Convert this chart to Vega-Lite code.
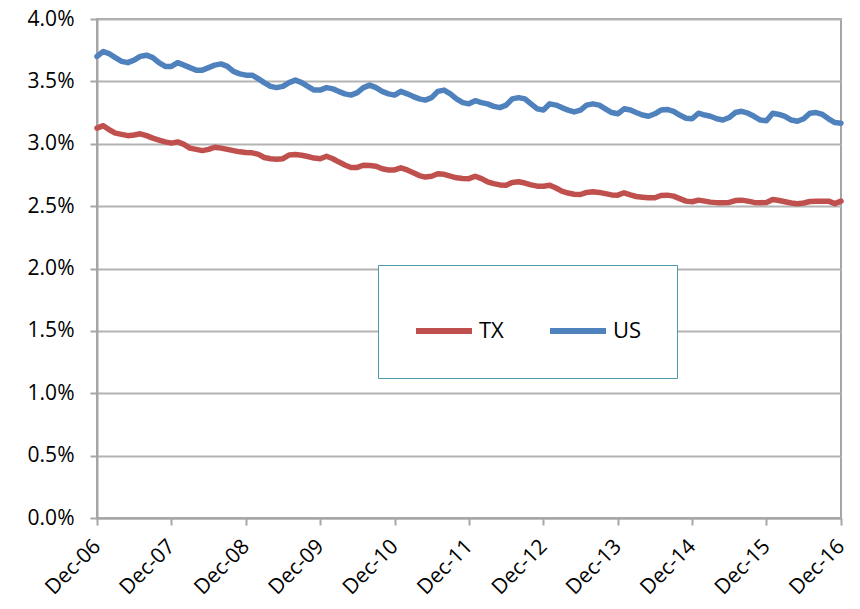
{
  "$schema": "https://vega.github.io/schema/vega-lite/v6.json",
  "width": 744,
  "height": 499,
  "autosize": {"type": "none"},
  "padding": {"left": 97, "top": 19, "right": 19, "bottom": 91},
  "background": "white",
  "config": {
    "view": {"stroke": "#a6a6a6", "strokeWidth": 2},
    "font": "Open Sans"
  },
  "data": {
    "values": [
      {"d":"2006-12-01","TX":3.125,"US":3.70},
      {"d":"2007-01-01","TX":3.145,"US":3.74},
      {"d":"2007-02-01","TX":3.11,"US":3.72},
      {"d":"2007-03-01","TX":3.085,"US":3.69},
      {"d":"2007-04-01","TX":3.075,"US":3.66},
      {"d":"2007-05-01","TX":3.065,"US":3.65},
      {"d":"2007-06-01","TX":3.07,"US":3.67},
      {"d":"2007-07-01","TX":3.08,"US":3.70},
      {"d":"2007-08-01","TX":3.065,"US":3.71},
      {"d":"2007-09-01","TX":3.045,"US":3.69},
      {"d":"2007-10-01","TX":3.03,"US":3.65},
      {"d":"2007-11-01","TX":3.015,"US":3.62},
      {"d":"2007-12-01","TX":3.005,"US":3.62},
      {"d":"2008-01-01","TX":3.015,"US":3.65},
      {"d":"2008-02-01","TX":2.995,"US":3.63},
      {"d":"2008-03-01","TX":2.965,"US":3.61},
      {"d":"2008-04-01","TX":2.955,"US":3.59},
      {"d":"2008-05-01","TX":2.945,"US":3.59},
      {"d":"2008-06-01","TX":2.955,"US":3.61},
      {"d":"2008-07-01","TX":2.972,"US":3.63},
      {"d":"2008-08-01","TX":2.965,"US":3.64},
      {"d":"2008-09-01","TX":2.955,"US":3.62},
      {"d":"2008-10-01","TX":2.945,"US":3.58},
      {"d":"2008-11-01","TX":2.935,"US":3.56},
      {"d":"2008-12-01","TX":2.93,"US":3.55},
      {"d":"2009-01-01","TX":2.927,"US":3.55},
      {"d":"2009-02-01","TX":2.915,"US":3.52},
      {"d":"2009-03-01","TX":2.89,"US":3.49},
      {"d":"2009-04-01","TX":2.88,"US":3.46},
      {"d":"2009-05-01","TX":2.875,"US":3.45},
      {"d":"2009-06-01","TX":2.88,"US":3.46},
      {"d":"2009-07-01","TX":2.91,"US":3.49},
      {"d":"2009-08-01","TX":2.913,"US":3.51},
      {"d":"2009-09-01","TX":2.908,"US":3.49},
      {"d":"2009-10-01","TX":2.898,"US":3.46},
      {"d":"2009-11-01","TX":2.885,"US":3.43},
      {"d":"2009-12-01","TX":2.88,"US":3.43},
      {"d":"2010-01-01","TX":2.90,"US":3.45},
      {"d":"2010-02-01","TX":2.88,"US":3.44},
      {"d":"2010-03-01","TX":2.855,"US":3.42},
      {"d":"2010-04-01","TX":2.83,"US":3.40},
      {"d":"2010-05-01","TX":2.81,"US":3.39},
      {"d":"2010-06-01","TX":2.81,"US":3.41},
      {"d":"2010-07-01","TX":2.828,"US":3.45},
      {"d":"2010-08-01","TX":2.825,"US":3.47},
      {"d":"2010-09-01","TX":2.82,"US":3.45},
      {"d":"2010-10-01","TX":2.80,"US":3.42},
      {"d":"2010-11-01","TX":2.79,"US":3.40},
      {"d":"2010-12-01","TX":2.79,"US":3.39},
      {"d":"2011-01-01","TX":2.807,"US":3.42},
      {"d":"2011-02-01","TX":2.79,"US":3.40},
      {"d":"2011-03-01","TX":2.77,"US":3.38},
      {"d":"2011-04-01","TX":2.745,"US":3.36},
      {"d":"2011-05-01","TX":2.733,"US":3.35},
      {"d":"2011-06-01","TX":2.74,"US":3.37},
      {"d":"2011-07-01","TX":2.76,"US":3.42},
      {"d":"2011-08-01","TX":2.755,"US":3.43},
      {"d":"2011-09-01","TX":2.74,"US":3.40},
      {"d":"2011-10-01","TX":2.727,"US":3.36},
      {"d":"2011-11-01","TX":2.721,"US":3.33},
      {"d":"2011-12-01","TX":2.72,"US":3.32},
      {"d":"2012-01-01","TX":2.74,"US":3.345},
      {"d":"2012-02-01","TX":2.72,"US":3.33},
      {"d":"2012-03-01","TX":2.695,"US":3.32},
      {"d":"2012-04-01","TX":2.68,"US":3.30},
      {"d":"2012-05-01","TX":2.67,"US":3.29},
      {"d":"2012-06-01","TX":2.668,"US":3.31},
      {"d":"2012-07-01","TX":2.69,"US":3.36},
      {"d":"2012-08-01","TX":2.695,"US":3.37},
      {"d":"2012-09-01","TX":2.685,"US":3.36},
      {"d":"2012-10-01","TX":2.67,"US":3.32},
      {"d":"2012-11-01","TX":2.66,"US":3.28},
      {"d":"2012-12-01","TX":2.66,"US":3.27},
      {"d":"2013-01-01","TX":2.668,"US":3.32},
      {"d":"2013-02-01","TX":2.645,"US":3.31},
      {"d":"2013-03-01","TX":2.62,"US":3.29},
      {"d":"2013-04-01","TX":2.605,"US":3.27},
      {"d":"2013-05-01","TX":2.595,"US":3.255},
      {"d":"2013-06-01","TX":2.593,"US":3.27},
      {"d":"2013-07-01","TX":2.61,"US":3.31},
      {"d":"2013-08-01","TX":2.615,"US":3.32},
      {"d":"2013-09-01","TX":2.61,"US":3.31},
      {"d":"2013-10-01","TX":2.60,"US":3.28},
      {"d":"2013-11-01","TX":2.59,"US":3.25},
      {"d":"2013-12-01","TX":2.588,"US":3.24},
      {"d":"2014-01-01","TX":2.607,"US":3.28},
      {"d":"2014-02-01","TX":2.59,"US":3.27},
      {"d":"2014-03-01","TX":2.577,"US":3.25},
      {"d":"2014-04-01","TX":2.572,"US":3.23},
      {"d":"2014-05-01","TX":2.568,"US":3.22},
      {"d":"2014-06-01","TX":2.567,"US":3.24},
      {"d":"2014-07-01","TX":2.585,"US":3.27},
      {"d":"2014-08-01","TX":2.588,"US":3.275},
      {"d":"2014-09-01","TX":2.58,"US":3.26},
      {"d":"2014-10-01","TX":2.56,"US":3.23},
      {"d":"2014-11-01","TX":2.54,"US":3.205},
      {"d":"2014-12-01","TX":2.535,"US":3.20},
      {"d":"2015-01-01","TX":2.548,"US":3.245},
      {"d":"2015-02-01","TX":2.54,"US":3.23},
      {"d":"2015-03-01","TX":2.532,"US":3.22},
      {"d":"2015-04-01","TX":2.528,"US":3.20},
      {"d":"2015-05-01","TX":2.527,"US":3.19},
      {"d":"2015-06-01","TX":2.53,"US":3.21},
      {"d":"2015-07-01","TX":2.545,"US":3.25},
      {"d":"2015-08-01","TX":2.548,"US":3.26},
      {"d":"2015-09-01","TX":2.54,"US":3.245},
      {"d":"2015-10-01","TX":2.53,"US":3.22},
      {"d":"2015-11-01","TX":2.527,"US":3.19},
      {"d":"2015-12-01","TX":2.53,"US":3.185},
      {"d":"2016-01-01","TX":2.553,"US":3.245},
      {"d":"2016-02-01","TX":2.545,"US":3.235},
      {"d":"2016-03-01","TX":2.535,"US":3.22},
      {"d":"2016-04-01","TX":2.525,"US":3.19},
      {"d":"2016-05-01","TX":2.519,"US":3.18},
      {"d":"2016-06-01","TX":2.525,"US":3.20},
      {"d":"2016-07-01","TX":2.537,"US":3.245},
      {"d":"2016-08-01","TX":2.54,"US":3.25},
      {"d":"2016-09-01","TX":2.54,"US":3.235},
      {"d":"2016-10-01","TX":2.54,"US":3.20},
      {"d":"2016-11-01","TX":2.52,"US":3.17},
      {"d":"2016-12-01","TX":2.54,"US":3.165}
    ]
  },
  "transform": [{"fold": ["TX", "US"], "as": ["series", "value"]}],
  "mark": {"type": "line", "strokeWidth": 5.5, "strokeCap": "round", "strokeJoin": "round"},
  "encoding": {
    "x": {
      "field": "d",
      "type": "temporal",
      "scale": {"type": "utc", "domain": [{"year": 2006, "month": 12, "date": 1, "utc": true}, {"year": 2016, "month": 12, "date": 1, "utc": true}], "nice": false},
      "axis": {
        "title": null,
        "grid": false,
        "values": [
          {"year": 2006, "month": 12, "date": 1, "utc": true},
          {"year": 2007, "month": 12, "date": 1, "utc": true},
          {"year": 2008, "month": 12, "date": 1, "utc": true},
          {"year": 2009, "month": 12, "date": 1, "utc": true},
          {"year": 2010, "month": 12, "date": 1, "utc": true},
          {"year": 2011, "month": 12, "date": 1, "utc": true},
          {"year": 2012, "month": 12, "date": 1, "utc": true},
          {"year": 2013, "month": 12, "date": 1, "utc": true},
          {"year": 2014, "month": 12, "date": 1, "utc": true},
          {"year": 2015, "month": 12, "date": 1, "utc": true},
          {"year": 2016, "month": 12, "date": 1, "utc": true}
        ],
        "labelExpr": "utcFormat(datum.value, '%b-%y')",
        "labelAngle": -45,
        "labelAlign": "right",
        "labelBaseline": "middle",
        "labelFontSize": 21,
        "labelColor": "#000000",
        "labelPadding": 18,
        "labelDx": 6,
        "labelOverlap": false,
        "domainColor": "#a6a6a6",
        "domainWidth": 2,
        "tickColor": "#a6a6a6",
        "tickWidth": 2,
        "tickSize": 7
      }
    },
    "y": {
      "field": "value",
      "type": "quantitative",
      "scale": {"domain": [0, 4], "nice": false, "zero": true},
      "axis": {
        "title": null,
        "values": [0, 0.5, 1, 1.5, 2, 2.5, 3, 3.5, 4],
        "labelExpr": "format(datum.value, '.1f') + '%'",
        "labelFontSize": 21,
        "labelColor": "#000000",
        "labelPadding": 16,
        "grid": true,
        "gridColor": "#b3b3b3",
        "gridWidth": 2,
        "domainColor": "#a6a6a6",
        "domainWidth": 2,
        "tickColor": "#a6a6a6",
        "tickWidth": 2,
        "tickSize": 7
      }
    },
    "color": {
      "field": "series",
      "type": "nominal",
      "scale": {"domain": ["TX", "US"], "range": ["#c0504d", "#4f81bd"]},
      "legend": {
        "title": null,
        "orient": "none",
        "legendX": 281,
        "legendY": 246,
        "direction": "horizontal",
        "fillColor": "white",
        "strokeColor": "#4b9cab",
        "padding": 35,
        "symbolType": "stroke",
        "symbolSize": 3136,
        "symbolStrokeWidth": 6,
        "labelFontSize": 22,
        "labelColor": "#000000",
        "labelOffset": 4,
        "columnPadding": 34
      }
    }
  }
}
